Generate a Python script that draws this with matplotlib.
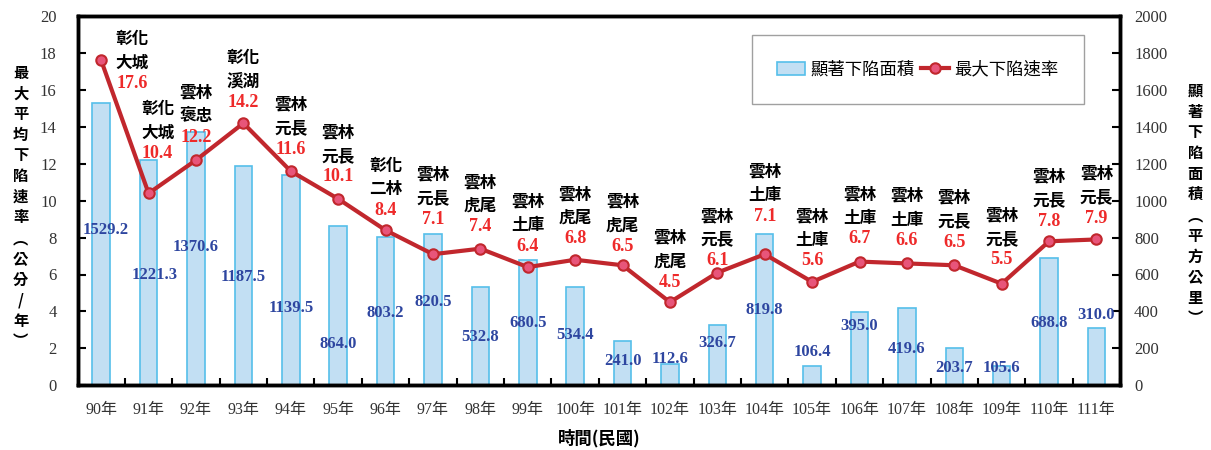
import matplotlib
matplotlib.use('Agg')
import matplotlib.pyplot as plt
import numpy as np

plt.rcParams['font.family'] = ['Liberation Serif', 'Noto Sans CJK TC']

years = ['90年', '91年', '92年', '93年', '94年', '95年', '96年', '97年', '98年', '99年', '100年',
         '101年', '102年', '103年', '104年', '105年', '106年', '107年', '108年', '109年', '110年', '111年']
area = [1529.2, 1221.3, 1370.6, 1187.5, 1139.5, 864.0, 803.2, 820.5, 532.8, 680.5, 534.4,
        241.0, 112.6, 326.7, 819.8, 106.4, 395.0, 419.6, 203.7, 105.6, 688.8, 310.0]
rate = [17.6, 10.4, 12.2, 14.2, 11.6, 10.1, 8.4, 7.1, 7.4, 6.4, 6.8,
        6.5, 4.5, 6.1, 7.1, 5.6, 6.7, 6.6, 6.5, 5.5, 7.8, 7.9]
places = ['彰化\n大城', '彰化\n大城', '雲林\n褒忠', '彰化\n溪湖', '雲林\n元長', '雲林\n元長', '彰化\n二林',
          '雲林\n元長', '雲林\n虎尾', '雲林\n土庫', '雲林\n虎尾', '雲林\n虎尾', '雲林\n虎尾', '雲林\n元長',
          '雲林\n土庫', '雲林\n土庫', '雲林\n土庫', '雲林\n土庫', '雲林\n元長', '雲林\n元長', '雲林\n元長', '雲林\n元長']

# label placement (as in the original figure)
area_lab_y = [840, 596, 748, 585, 417, 222, 390, 450, 260, 336, 271,
              130, 141, 228, 407, 179, 320, 195, 92, 92, 336, 379]
area_lab_dx = [0.1, 0.12, 0, 0, 0, 0, 0, 0, 0, 0, 0, 0, 0, 0, 0, 0, 0, 0, 0, 0, 0, 0]
rate_dy = [-23, 40, 23, 21, 22, 22, 20, 35, 22, 21, 21, 19, 20, 12, 38, 21, 23, 23, 23, 24, 20, 21]
rate_dx = [31, 9, 0, 0, 0, 0, 0, 0, 0, 0, 0, 0, 0, 0, 0, 0, 0, 0, 0, 0, 0, 0]

x = np.arange(len(years))

fig = plt.figure(figsize=(12.11, 4.5), dpi=100)
ax1 = fig.add_axes([0.064, 0.144, 0.861, 0.82])
ax2 = ax1.twinx()
ax1.set_zorder(ax2.get_zorder() + 1)
ax1.patch.set_visible(False)

bars = ax2.bar(x, area, width=0.37, color='#C2DFF3', edgecolor='#55BFEA', linewidth=1.2,
               label='顯著下陷面積')
for i in range(len(x)):
    ax2.text(x[i] + area_lab_dx[i], area_lab_y[i], '%.1f' % area[i], ha='center', va='center',
             color='#2E46A0', fontsize=12, fontweight='bold')

line, = ax1.plot(x, rate, color='#C1272D', linewidth=3, marker='o', markersize=7.5,
                 markerfacecolor='#E8557A', markeredgecolor='#C1272D', markeredgewidth=1.5,
                 label='最大下陷速率')
for i in range(len(x)):
    ax1.annotate('%.1f' % rate[i], (x[i], rate[i]), xytext=(rate_dx[i], rate_dy[i]),
                 textcoords='offset pixels', ha='center', va='center',
                 color='#EE2A2A', fontsize=13, fontweight='bold')
    ax1.annotate(places[i], (x[i], rate[i]), xytext=(rate_dx[i], rate_dy[i] + 12),
                 textcoords='offset pixels', ha='center', va='bottom',
                 color='black', fontsize=12, fontweight='bold', linespacing=1.4,
                 family='Noto Sans CJK TC')

ax1.set_xlim(-0.5, len(x) - 0.5)
ax1.set_ylim(0, 20)
ax2.set_ylim(0, 2000)
ax1.set_yticks(np.arange(0, 21, 2))
ax2.set_yticks(np.arange(0, 2001, 200))
ax1.set_xticks(x)
ax1.set_xticklabels(years)
ax1.set_xticks(np.arange(-0.5, len(x), 1), minor=True)

ax1.tick_params(axis='y', direction='in', length=6, width=1.5, pad=15, labelsize=12, labelcolor='#333333')
ax2.tick_params(axis='y', direction='in', length=6, width=1.5, pad=10, labelsize=12, labelcolor='#333333')
ax1.tick_params(axis='x', which='major', length=0, pad=12, labelsize=11.5, labelcolor='#333333')
ax1.tick_params(axis='x', which='minor', direction='in', length=5, width=1.5)

for a in (ax1, ax2):
    for s in a.spines.values():
        s.set_linewidth(2.5)
        s.set_color('black')

ax1.set_xlabel('時間(民國)', fontsize=12.5, fontweight='bold', family='Noto Sans CJK TC', labelpad=8)

left_label = ['最', '大', '平', '均', '下', '陷', '速', '率', '︵', '公', '分', '/', '年', '︶']
right_label = ['顯', '著', '下', '陷', '面', '積', '︵', '平', '方', '公', '里', '︶']
fig.text(0.017, 0.54, '\n'.join(left_label), ha='center', va='center', fontsize=11,
         fontweight='bold', family=['Noto Sans CJK TC', 'DejaVu Sans'], linespacing=1.36)
fig.text(0.987, 0.545, '\n'.join(right_label), ha='center', va='center', fontsize=11,
         fontweight='bold', family=['Noto Sans CJK TC', 'DejaVu Sans'], linespacing=1.36)

leg = ax1.legend([bars, line], ['顯著下陷面積', '最大下陷速率'], loc='upper left',
                 bbox_to_anchor=(0.647, 0.948), borderaxespad=0, ncol=2, frameon=True,
                 fancybox=False, edgecolor='#888888', borderpad=1.45, handlelength=1.6,
                 handletextpad=0.3, columnspacing=0.4,
                 prop={'family': 'Noto Sans CJK TC', 'size': 12.5})
leg.get_frame().set_linewidth(1.0)

fig.savefig('out.png', dpi=100)
